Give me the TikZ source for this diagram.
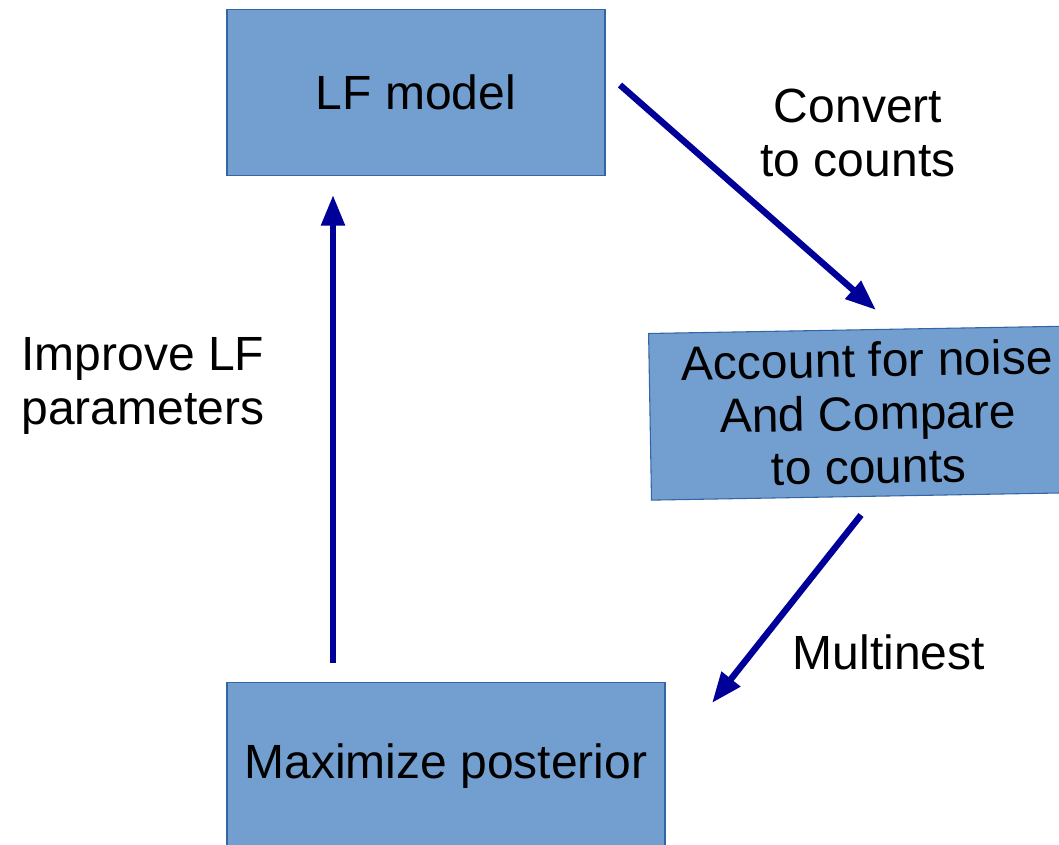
\documentclass[tikz,border=0pt]{standalone}
\usepackage{fontspec}
\setmainfont{Liberation Sans}
\usetikzlibrary{arrows.meta}
\definecolor{boxfill}{HTML}{729FCF}
\definecolor{boxline}{HTML}{3465A4}
\definecolor{flowblue}{HTML}{000099}
\begin{document}
\begin{tikzpicture}[x=0.75pt,y=-0.75pt,>={Triangle[length=23pt,width=17pt]},
	box/.style={draw=boxline,fill=boxfill,line width=0.8pt,minimum height=125pt,align=center,inner sep=0pt},
	flow/.style={->,draw=flowblue,line width=4.8pt},
	lbl/.style={align=center,inner sep=0pt}]
\useasboundingbox (0,0) rectangle (1059,845);
\fontsize{36}{40}\selectfont
\node[box,minimum width=283.5pt] (lf) at (416,92.5) {LF model};
\node[box,minimum width=327pt,rotate=1] (acc) at (868,413) {Account for noise\\And Compare\\ to counts};
\node[box,minimum width=328.5pt] (post) at (446,766) {Maximize posterior};
\node[lbl] (conv) at (858,133) {Convert\\to counts};
\node[lbl] (multi) at (889,652) {Multinest};
\node[lbl] (impr) at (143,386) {Improve LF\\parameters};
\coordinate (a1) at (620,85);
\coordinate (b1) at (876,310);
\coordinate (a2) at (861,515);
\coordinate (b2) at (712,703);
\coordinate (a3) at (333,663);
\coordinate (b3) at (333,195);
\draw[flow] (a1) -- (b1);
\draw[flow] (a2) -- (b2);
\draw[flow] (a3) -- (b3);
\end{tikzpicture}
\end{document}
